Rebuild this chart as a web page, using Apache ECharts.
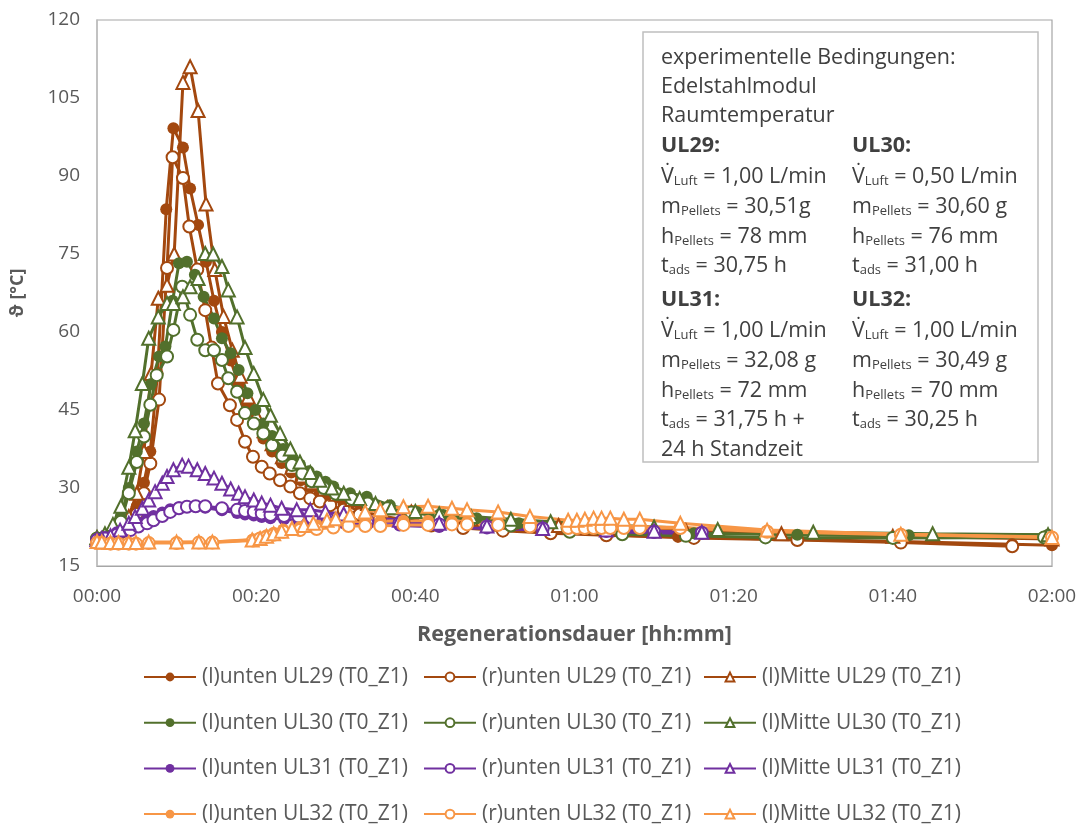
<!DOCTYPE html>
<html><head><meta charset="utf-8">
<script src="https://cdn.jsdelivr.net/npm/echarts@6/dist/echarts.min.js"></script>
<style>html,body{margin:0;padding:0;background:#fff}#c{width:1082px;height:826px}</style>
</head><body><div id="c"></div>
<script>
// ---- Data (time in minutes, temperature in °C) ----
const seriesNames = [
  "(l)unten UL29 (T0_Z1)", "(r)unten UL29 (T0_Z1)", "(l)Mitte UL29 (T0_Z1)",
  "(l)unten UL30 (T0_Z1)", "(r)unten UL30 (T0_Z1)", "(l)Mitte UL30 (T0_Z1)",
  "(l)unten UL31 (T0_Z1)", "(r)unten UL31 (T0_Z1)", "(l)Mitte UL31 (T0_Z1)",
  "(l)unten UL32 (T0_Z1)", "(r)unten UL32 (T0_Z1)", "(l)Mitte UL32 (T0_Z1)"
];
const xTicks = ["00:00","00:20","00:40","01:00","01:20","01:40","02:00"];
const yTicks = [15,30,45,60,75,90,105,120];

// UL29
const t_UL29_lu = [0,1,2,3,4,5,5.9,6.7,7.6,8.7,9.6,10.8,11.7,12.7,13.7,14.7,15.7,16.8,17.8,18.9,19.9,20.9,22,23.2,24.4,25.6,26.8,28,29.3,31,33,35.5,38.5,42,46,51,57,64,73,88,101,115,120];
const v_UL29_lu = [20.3,20.6,21,22,23.5,26.5,31,37,52,83.6,99.2,95.5,87.6,80.6,73.5,66,60,54.5,50,46,42.5,39.5,37,34.8,33,31.5,30.2,29,28,26.8,25.6,24.7,23.9,23.2,22.6,22,21.5,21,20.6,20.1,19.7,19.2,19];
const t_UL29_ru = [0,1,2,3,4,5,5.9,6.7,7.8,8.8,9.5,10.8,11.6,12.6,13.6,14.4,15.2,16.7,17.6,18.6,19.6,20.7,21.7,23,24.3,25.5,26.8,28,29.3,31,33,35.5,38.5,42,46,51,57,64,75,88,101,115];
const v_UL29_ru = [20.2,20.4,20.8,21.5,22.8,25,29,34.7,47,72.3,93.6,89.6,80.3,72,64.2,57,50.1,45.9,43.1,38.9,36,34.1,32.8,31.5,30.3,29,28,27.4,26.7,25.8,24.9,24.1,23.4,22.8,22.3,21.8,21.3,20.9,20.4,20,19.5,18.8];
const t_UL29_mi = [0,1,2,3,4,5,5.9,6.8,7.7,8.8,9.7,10.8,11.7,12.7,13.7,14.8,15.9,17,18,19,20,21,22,23.3,24.5,25.8,27,28.5,30,32,34,36.5,39.5,43,47,52,58,65,74,86,100,120];
const v_UL29_mi = [20.4,20.7,21.2,22.3,24.5,29,37,52,66.5,69,75,108,111,102.6,84.6,72,63,56.5,51.5,47.5,44,41,38.5,36,34,32.3,31,29.8,28.8,27.8,27,26.2,25.4,24.6,24,23.4,22.8,22.3,21.8,21.2,20.7,20.2];

// UL30
const t_UL30_lu = [0,1,2,3,4,5,5.9,6.8,7.8,8.6,9.5,10.3,11.3,12.3,13.4,14.7,15.7,16.8,17.8,18.9,19.9,20.9,22,23.4,24.5,25.5,26.6,27.6,28.7,29.7,31.8,33.9,36.8,40.2,43.5,47.7,53,59,66,75,88,102,119.5];
const v_UL30_lu = [20.4,20.8,21.8,24.5,30,37,42.4,50,55.3,57.2,66,73.2,73.5,71,66.8,62.6,58.8,55.9,52.7,48.2,45,42.4,40,37.5,35.8,34.5,33.2,32.2,31.2,30.3,29,28.3,26.7,25.4,24.8,24.2,23.2,22.3,21.7,21.3,21,20.9,21];
const t_UL30_ru = [0,1,2,3,4,5,5.9,6.7,7.5,8.8,9.6,10.7,11.7,12.6,13.6,14.7,15.7,16.5,17.6,18.6,19.7,20.9,22,23.3,24.5,25.8,27,28.5,30,32,34,36.5,39.5,43,47,52,59.4,66,74,84,100,119];
const v_UL30_ru = [20.3,20.6,21.3,23.5,29,35,39.9,46,51.7,55.3,60.4,68.7,63.3,58.5,56.5,56.5,54.6,51.1,48.5,44.4,42.4,40.5,38.2,36.2,34.4,32.8,31.3,30,28.9,27.9,27,26.1,25.3,24.6,24,22.8,21.6,21.1,20.8,20.5,20.4,20.5];
const t_UL30_mi = [0,1,2,3,4,4.8,5.7,6.5,7.7,8.8,9.6,10.8,11.7,12.7,13.6,14.6,15.7,16.5,17.6,18.6,19.7,20.9,21.8,23,24.3,25.5,26.8,28,29.5,31,33,35,37,40,43,47,52,57,63,70,78,90,105,119.5];
const v_UL30_mi = [20.5,21.2,23,26.5,34,41,50.1,58.8,62.9,65.5,65.5,66.8,68.7,70.3,75.1,75,72.6,68.1,62.9,57,52,47,44,40.5,37.5,35,33,31.5,30,29,28,27,26.2,25.5,25,24.5,24,23.5,23,22.5,22,21.5,21.2,21];

// UL31
const t_UL31_lu = [0,1,2.5,4.2,5.2,6.3,7.1,8.2,9.2,10.3,11.3,12.4,13.6,15.7,17.6,18.6,19.7,20.7,21.8,23.5,25.3,27,29,31,34,38,43,49,56,64,70,76];
const v_UL31_lu = [20.2,20.6,21.5,22.6,23.4,24.1,24.6,25.3,25.9,26.3,26.5,26.4,26.2,25.7,25.2,24.9,24.7,24.4,24.2,24,23.8,23.6,23.4,23.2,23,22.8,22.5,22.2,21.9,21.6,21.4,21.2];
const t_UL31_ru = [0,1,2.5,4.2,5.2,6.3,7.1,8.2,9.2,10.3,11.3,12.4,13.6,15.7,17.6,18.6,19.7,20.7,21.8,23.5,25.3,27,29,31,34,38,43,49,56,64,70,76];
const v_UL31_ru = [20,20.3,21,21.9,22.6,23.2,23.8,24.6,25.4,26.1,26.4,26.5,26.5,26.1,25.8,25.6,25.4,25.1,24.8,24.6,24.5,24.3,24.1,23.9,23.6,23.3,23,22.6,22.2,21.8,21.6,21.4];
const t_UL31_mi = [0,0.6,1.7,2.9,4,4.8,5.7,6.5,7.3,8.2,8.8,9.6,10.7,11.5,12.6,13.6,14.7,15.7,16.8,17.8,18.6,19.7,20.7,21.8,23.2,25.1,26.8,28.7,31,34,38,43,49,56,64,70,76];
const v_UL31_mi = [20.1,20.3,20.8,21.9,23.2,24.5,26.1,27.7,29.3,30.9,32.2,33.5,34.4,34.2,33.5,32.8,31.9,30.9,29.8,29,28.3,27.7,27.1,26.7,26.1,25.8,25.8,25.4,25,24.4,23.8,23.2,22.7,22.2,21.9,21.7,21.5];

// UL32
const t_UL32_lu = [0,0.6,1.7,2.7,4,4.9,6.5,10,12.8,14.5,19.6,20.5,21.3,22.2,23.4,25.5,27.6,29.7,31.6,33.7,35.6,38.5,41.6,44.6,46.5,50.4,54.4,59.2,60.3,61.3,62.4,63.4,64.5,66.2,68.2,73.3,84.2,101,120];
const v_UL32_lu = [19.6,19.5,19.5,19.4,19.4,19.4,19.5,19.5,19.6,19.6,20.1,20.5,20.9,21.4,22,22.5,22.8,23.2,23.5,23.6,23.6,23.7,23.7,23.6,23.5,23.3,23,22.7,22.7,22.7,22.7,22.7,22.7,22.7,22.6,22.4,21.8,21.1,20.6];
const t_UL32_ru = [0,0.6,1.7,2.7,4,4.9,6.5,10,12.8,14.5,19.6,20.5,21.3,22.2,23.4,25.5,27.6,29.7,31.6,33.7,35.6,38.5,41.6,44.6,46.5,50.4,54.4,59.2,60.3,61.3,62.4,63.4,64.5,66.2,68.2,73.3,84.2,101,120];
const v_UL32_ru = [19.4,19.4,19.3,19.3,19.3,19.3,19.4,19.4,19.5,19.5,19.9,20.3,20.6,21,21.6,21.9,22.1,22.4,22.7,22.7,22.7,22.9,22.9,23,23,22.9,22.6,22.3,22.3,22.3,22.3,22.3,22.3,22.3,22.3,22.3,21.6,21,20.5];
const t_UL32_mi = [0,0.6,1.7,2.7,4,4.9,6.5,10,12.8,14.5,19.5,20.5,21.3,22.2,23.2,24.5,26,27.2,28.9,30,31.8,33.7,35.6,38.5,41.6,44.6,46.5,50.4,54.4,59.2,60.3,61.3,62.4,63.4,64.5,66.2,68.2,73.3,84.2,101,120];
const v_UL32_mi = [19.7,19.6,19.5,19.5,19.5,19.5,19.6,19.6,19.6,19.6,20,20.3,20.7,21.2,21.7,22.2,22.8,23.2,23.8,24.1,24.8,25.4,25.8,26.4,26.5,26.1,25.8,25.4,24.5,23.8,23.8,24,24.2,24.2,24.2,24,24,23.2,21.9,21.1,20.5];

const seriesTimes = [t_UL29_lu,t_UL29_ru,t_UL29_mi,t_UL30_lu,t_UL30_ru,t_UL30_mi,t_UL31_lu,t_UL31_ru,t_UL31_mi,t_UL32_lu,t_UL32_ru,t_UL32_mi];
const seriesValues = [v_UL29_lu,v_UL29_ru,v_UL29_mi,v_UL30_lu,v_UL30_ru,v_UL30_mi,v_UL31_lu,v_UL31_ru,v_UL31_mi,v_UL32_lu,v_UL32_ru,v_UL32_mi];

// ---- Styling ----
const colors = ["#A3480F", "#52702C", "#7030A0", "#F79646"];
const FONT = "'Open Sans', 'Noto Sans', sans-serif";
const TXT = "#595959";

const series = seriesNames.map((name, i) => {
  const col = colors[Math.floor(i / 3)];
  const kind = i % 3;
  const symbol = kind === 2 ? 'triangle' : 'circle';
  return {
    name, type: 'line',
    data: seriesTimes[i].map((t, k) => [t, seriesValues[i][k]]),
    symbol, symbolSize: kind === 2 ? 13 : 12,
    showAllSymbol: true,
    lineStyle: { color: col, width: 3 },
    itemStyle: { color: kind === 0 ? col : '#ffffff', borderColor: col, borderWidth: kind === 0 ? 0 : 2 },
    emphasis: { disabled: true },
    animation: false
  };
});

function legendCol(left, idxs) {
  return {
    orient: 'vertical', left, top: 665, height: 170, padding: 0,
    data: idxs.map(i => seriesNames[i]),
    itemWidth: 52, itemHeight: 11, itemGap: 21.7,
    textStyle: { color: TXT, fontSize: 21, fontFamily: FONT, lineHeight: 24, padding: [0,0,0,1] },
    selectedMode: false
  };
}

const FS = 21.5;
const richBase = {
  n: { fontSize: FS, fontFamily: FONT, color: '#404040' },
  b: { fontSize: FS, fontFamily: FONT, fontWeight: 'bold', color: '#1a1a1a' },
  s: { fontSize: 13, fontFamily: FONT, color: '#404040', verticalAlign: 'bottom', lineHeight: 20 }
};
function txt(x, y, text) {
  return { type: 'text', x, y, z: 100,
    style: { text, rich: richBase, fontSize: FS, fontFamily: FONT, fill: '#404040', verticalAlign: 'middle', align: 'left' } };
}
const c1 = 661, c2 = 852;
const boxLines = [
  [c1, 58, '{n|experimentelle Bedingungen:}'],
  [c1, 87, '{n|Edelstahlmodul}'],
  [c1, 116, '{n|Raumtemperatur}'],
  [c1, 146, '{b|UL29:}'], [c2, 146, '{b|UL30:}'],
  [c1, 177, '{n|V\u0307}{s|Luft}{n| = 1,00 L/min}'], [c2, 177, '{n|V\u0307}{s|Luft}{n| = 0,50 L/min}'],
  [c1, 207, '{n|m}{s|Pellets}{n| = 30,51g}'], [c2, 207, '{n|m}{s|Pellets}{n| = 30,60 g}'],
  [c1, 237, '{n|h}{s|Pellets}{n| = 78 mm}'], [c2, 237, '{n|h}{s|Pellets}{n| = 76 mm}'],
  [c1, 266, '{n|t}{s|ads}{n| = 30,75 h}'], [c2, 266, '{n|t}{s|ads}{n| = 31,00 h}'],
  [c1, 300, '{b|UL31:}'], [c2, 300, '{b|UL32:}'],
  [c1, 331, '{n|V\u0307}{s|Luft}{n| = 1,00 L/min}'], [c2, 331, '{n|V\u0307}{s|Luft}{n| = 1,00 L/min}'],
  [c1, 361, '{n|m}{s|Pellets}{n| = 32,08 g}'], [c2, 361, '{n|m}{s|Pellets}{n| = 30,49 g}'],
  [c1, 391, '{n|h}{s|Pellets}{n| = 72 mm}'], [c2, 391, '{n|h}{s|Pellets}{n| = 70 mm}'],
  [c1, 420, '{n|t}{s|ads}{n| = 31,75 h +}'], [c2, 420, '{n|t}{s|ads}{n| = 30,25 h}'],
  [c1, 450, '{n|24 h Standzeit}']
];

const chart = echarts.init(document.getElementById('c'), null, { renderer: 'canvas' });
chart.setOption({
  backgroundColor: '#ffffff',
  animation: false,
  grid: { left: 97, right: 30, top: 20, bottom: 260, show: true, borderColor: '#a6a6a6', borderWidth: 1.2, backgroundColor: 'transparent' },
  xAxis: {
    type: 'value', min: 0, max: 120, interval: 20,
    name: 'Regenerationsdauer [hh:mm]', nameLocation: 'middle', nameGap: 58,
    nameTextStyle: { color: TXT, fontSize: 21.5, fontWeight: 'bold', fontFamily: FONT },
    axisLine: { show: true, lineStyle: { color: '#a6a6a6', width: 1.2 } },
    axisTick: { show: false }, splitLine: { show: false },
    axisLabel: { color: TXT, fontSize: 19, fontFamily: FONT, margin: 21,
      formatter: v => xTicks[Math.round(v / 20)] }
  },
  yAxis: {
    type: 'value', min: 15, max: 120, interval: 15,
    name: 'ϑ [°C]', nameLocation: 'middle', nameGap: 70,
    nameTextStyle: { color: TXT, fontSize: 18, fontWeight: 'bold', fontFamily: FONT },
    axisLine: { show: true, lineStyle: { color: '#bfbfbf', width: 1.5 } },
    axisTick: { show: false }, splitLine: { show: false },
    axisLabel: { color: TXT, fontSize: 19, fontFamily: FONT, margin: 17,
      formatter: v => String(yTicks[Math.round((v - 15) / 15)]) }
  },
  legend: [legendCol(143, [0,3,6,9]), legendCol(423, [1,4,7,10]), legendCol(703, [2,5,8,11])],
  graphic: [
    { type: 'rect', z: 99, shape: { x: 643, y: 32, width: 395, height: 430 },
      style: { fill: '#ffffff', stroke: '#bfbfbf', lineWidth: 1.5 } },
    ...boxLines.map(l => txt(l[0], l[1], l[2]))
  ],
  series
});
</script></body></html>
